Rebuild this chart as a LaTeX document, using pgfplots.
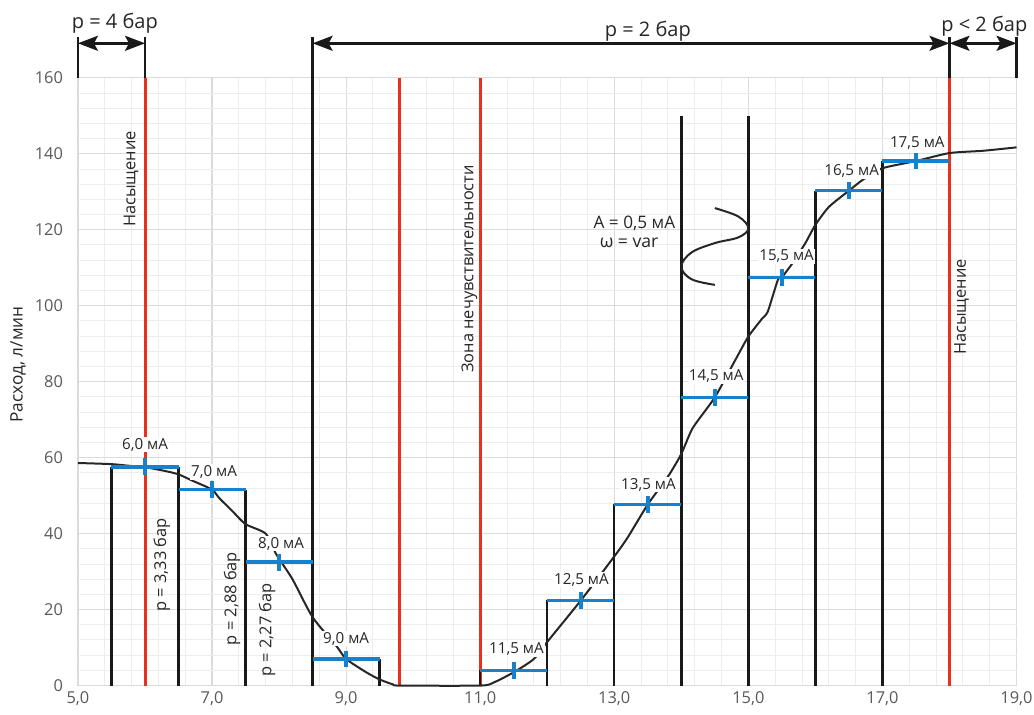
\documentclass[border=0pt]{standalone}
\usepackage{pgfplots}
\pgfplotsset{compat=1.18}
\usepackage{fontspec}
\setmainfont{Open Sans}
\usetikzlibrary{arrows.meta}
\definecolor{myred}{RGB}{232,48,28}
\definecolor{myblue}{RGB}{22,130,205}
\definecolor{txt}{RGB}{38,38,38}
\definecolor{ticktxt}{RGB}{89,89,89}
\tikzset{
  lab/.style={font=\fontsize{7.6}{8}\selectfont, text=txt, fill=white, inner sep=0.6pt},
  vlab/.style={font=\fontsize{8.2}{9}\selectfont, text=txt, rotate=90, inner sep=0pt},
}
\begin{document}
\begin{tikzpicture}
\begin{axis}[
  scale only axis, width=469.5pt, height=304pt,
  xmin=5, xmax=19, ymin=0, ymax=160,
  clip=false,
  axis line style={draw=none},
  major tick length=0pt, minor tick length=0pt,
  xtick={5,7,9,11,13,15,17,19},
  xticklabels={{5,0},{7,0},{9,0},{11,0},{13,0},{15,0},{17,0},{19,0}},
  ytick={0,20,40,60,80,100,120,140,160},
  yticklabels={0,20,40,60,80,100,120,140,160},
  minor x tick num=4, minor y tick num=4,
  grid=both,
  major grid style={draw=black!14, line width=0.6pt},
  minor grid style={draw=black!7, line width=0.5pt},
  ticklabel style={font=\fontsize{8.2}{9}\selectfont, text=ticktxt},
  xticklabel style={anchor=center, inner sep=0pt, yshift=-6.5pt},
  yticklabel style={xshift=-4pt},
]
% bounding frame
\path (axis cs:3.837,-7.63) rectangle (axis cs:19.254,180.5);
% red lines
\addplot[ycomb, myred, line width=1.5pt, mark=none] coordinates {(6,160)(9.8,160)(11,160)(18,160)};
% black verticals
\addplot[ycomb, black!90, line width=1.2pt, mark=none] coordinates {
(5.5,57.6)(6.5,57.6)(7.5,51.6)(8.5,170.8)(9.5,7.0)(11,4.0)(12,22.4)(13,47.7)(14,150)(15,150)(16,130.3)(17,138.1)};
\addplot[black!90, line width=1.2pt] coordinates {(5,160)(5,170.8)};
\addplot[black!90, line width=1.2pt] coordinates {(6,160)(6,170.8)};
\addplot[black!90, line width=1.2pt] coordinates {(18,160)(18,170.8)};
\addplot[black!90, line width=1.2pt] coordinates {(19,160)(19,170.8)};
% arrows
\addplot[black!90, line width=1.25pt, {Stealth[length=10pt,width=7.5pt,inset=2pt]}-{Stealth[length=10pt,width=7.5pt,inset=2pt]}] coordinates {(5,169.1)(6,169.1)};
\addplot[black!90, line width=1.25pt, {Stealth[length=10pt,width=7.5pt,inset=2pt]}-{Stealth[length=10pt,width=7.5pt,inset=2pt]}] coordinates {(8.5,169.1)(18,169.1)};
\addplot[black!90, line width=1.25pt, {Stealth[length=10pt,width=7.5pt,inset=2pt]}-{Stealth[length=10pt,width=7.5pt,inset=2pt]}] coordinates {(18,169.1)(19,169.1)};
% curve
\addplot[txt, line width=1pt, smooth, tension=0.4] coordinates {
(5.0,58.6)(5.5,58.3)(5.8,57.8)(6.0,57.5)(6.3,56.5)(6.5,55.6)(6.7,54)(7.0,51.6)(7.1,49.5)(7.3,46)(7.5,42.5)(7.8,40)(7.96,34.5)(8.2,28)(8.5,18)(8.86,10.3)(9.0,7)(9.3,3.5)(9.5,1.6)(9.7,0.3)(9.8,0)(11.0,0)(11.2,0.8)(11.5,3.5)(11.8,7)(12.0,11.5)(12.5,22.4)(13.0,34)(13.2,39)(13.5,47.7)(13.8,55)(14.0,61)(14.17,67.8)(14.5,75.9)(14.82,86.2)(15.0,91.9)(15.2,96.5)(15.29,98.5)(15.44,106.8)(15.5,107.5)(15.65,111)(15.85,116.5)(16.0,121.3)(16.2,126)(16.5,130.3)(16.71,133.2)(17.0,136.2)(17.5,138.1)(18.0,140.2)(18.5,140.8)(19.0,141.7)};
% sine sketch
\addplot[txt, line width=1pt, smooth, tension=0.6] coordinates {
(14.5,125.7)(14.85,123.5)(15.0,120.4)(14.85,118)(14.5,116.5)(14.15,114)(14.0,110.3)(14.15,107)(14.5,105.5)};
% blue segments
\addplot[myblue, line width=1.75pt] coordinates {(5.5,57.6)(6.5,57.6)};
\addplot[myblue, line width=1.75pt] coordinates {(6.5,51.6)(7.5,51.6)};
\addplot[myblue, line width=1.75pt] coordinates {(7.5,32.5)(8.5,32.5)};
\addplot[myblue, line width=1.75pt] coordinates {(8.5,7.0)(9.5,7.0)};
\addplot[myblue, line width=1.75pt] coordinates {(11,4.0)(12,4.0)};
\addplot[myblue, line width=1.75pt] coordinates {(12,22.4)(13,22.4)};
\addplot[myblue, line width=1.75pt] coordinates {(13,47.7)(14,47.7)};
\addplot[myblue, line width=1.75pt] coordinates {(14,75.9)(15,75.9)};
\addplot[myblue, line width=1.75pt] coordinates {(15,107.5)(16,107.5)};
\addplot[myblue, line width=1.75pt] coordinates {(16,130.3)(17,130.3)};
\addplot[myblue, line width=1.75pt] coordinates {(17,138.1)(18,138.1)};
\addplot[only marks, mark=|, mark size=4.2pt, mark options={draw=myblue, line width=2pt}] coordinates {
(6,57.6)(7,51.6)(8,32.5)(9,7.0)(11.5,4.0)(12.5,22.4)(13.5,47.7)(14.5,75.9)(15.5,107.5)(16.5,130.3)(17.5,138.1)};
% step labels
\node[lab] at (axis cs:6.0,63.4) {6,0 мА};
\node[lab] at (axis cs:7.03,56.2) {7,0 мА};
\node[lab] at (axis cs:8.03,37.4) {8,0 мА};
\node[lab] at (axis cs:9.0,12.4) {9,0 мА};
\node[lab] at (axis cs:11.54,9.5) {11,5 мА};
\node[lab] at (axis cs:12.51,27.9) {12,5 мА};
\node[lab] at (axis cs:13.51,52.9) {13,5 мА};
\node[lab] at (axis cs:14.52,81.4) {14,5 мА};
\node[lab] at (axis cs:15.57,113) {15,5 мА};
\node[lab] at (axis cs:16.54,135.5) {16,5 мА};
\node[lab] at (axis cs:17.52,142.8) {17,5 мА};
% rotated labels
\node[vlab] at (axis cs:5.79,133.4) {Насыщение};
\node[vlab] at (axis cs:10.84,109.7) {Зона нечувствительности};
\node[vlab] at (axis cs:18.18,99.7) {Насыщение};
\node[vlab] at (axis cs:6.25,31.8) {p = 3,33 бар};
\node[vlab] at (axis cs:7.3,22.9) {p = 2,88 бар};
\node[vlab] at (axis cs:7.82,14.7) {p = 2,27 бар};
% other text
\node[font=\fontsize{8.6}{9}\selectfont, text=txt] at (axis cs:13.3,121.8) {A = 0,5 мА};
\node[font=\fontsize{8.8}{9}\selectfont, text=txt] at (axis cs:13.22,116.6) {ω = var};
\node[font=\fontsize{10}{11}\selectfont, text=txt] at (axis cs:5.55,174.5) {p = 4 бар};
\node[font=\fontsize{10}{11}\selectfont, text=txt] at (axis cs:13.5,172.2) {p = 2 бар};
\node[font=\fontsize{10}{11}\selectfont, text=txt] at (axis cs:18.52,173.6) {p < 2 бар};
\node[font=\fontsize{8.6}{9}\selectfont, text=txt, rotate=90] at (axis cs:4.105,84.5) {Расход, л/мин};
\end{axis}
\end{tikzpicture}
\end{document}
